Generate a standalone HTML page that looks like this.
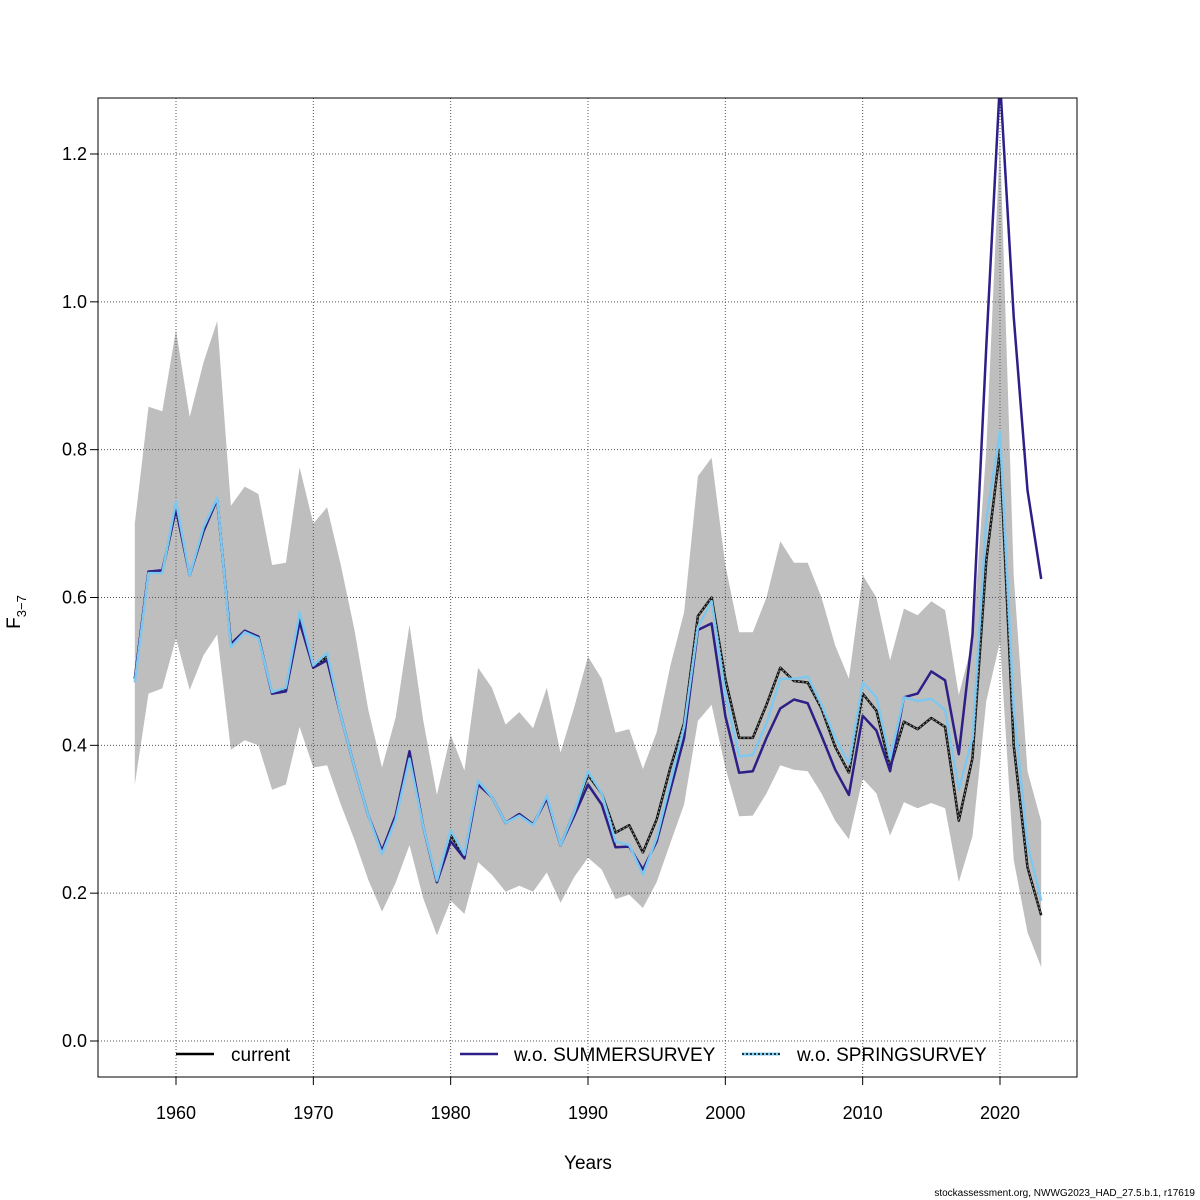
<!DOCTYPE html>
<html><head><meta charset="utf-8"><style>
html,body{margin:0;padding:0;background:#fff;}
svg{display:block;font-family:"Liberation Sans",Arial,sans-serif;}
</style></head><body>
<svg id="chart" width="1200" height="1200" viewBox="0 0 1200 1200" xmlns="http://www.w3.org/2000/svg">
<defs><clipPath id="clip"><rect x="98" y="98" width="979" height="979"/></clipPath></defs>
<g id="band" clip-path="url(#clip)"></g>
<g id="grid"></g>
<g id="lines" clip-path="url(#clip)"></g>
<rect x="98" y="98" width="979" height="979" fill="none" stroke="#000" stroke-width="1"/>
<g id="axes"></g>
<text x="588" y="1169" font-size="19" text-anchor="middle">Years</text>
<text transform="translate(20,612) rotate(-90)" font-size="19" text-anchor="middle">F<tspan font-size="13" dy="6">3−7</tspan></text>
<g>
<g>
<line x1="176" y1="1054" x2="214" y2="1054" stroke="#000" stroke-width="2.5"/>
<text x="231" y="1061" font-size="19">current</text></g>
<g>
<line x1="460" y1="1054" x2="498" y2="1054" stroke="#2c1f87" stroke-width="2.5"/>
<text x="514" y="1061" font-size="19">w.o. SUMMERSURVEY</text></g>
<g>
<line x1="742" y1="1054" x2="780" y2="1054" stroke="#7ec8ef" stroke-width="3"/>
<line x1="742" y1="1054" x2="780" y2="1054" stroke="#000" stroke-width="1.5" stroke-dasharray="2,2"/>
<text x="797" y="1061" font-size="19">w.o. SPRINGSURVEY</text></g>
</g>
<text x="1195" y="1196" font-size="10" text-anchor="end">stockassessment.org, NWWG2023_HAD_27.5.b.1, r17619</text>
</svg>
<script>
const years = [];
for (let y = 1957; y <= 2023; y++) years.push(y);
const current = [0.49,0.635,0.635,0.72,0.63,0.69,0.733,0.537,0.555,0.547,0.47,0.475,0.57,0.505,0.52,0.44,0.37,0.305,0.257,0.305,0.39,0.29,0.215,0.278,0.25,0.35,0.33,0.295,0.307,0.293,0.33,0.265,0.31,0.36,0.335,0.282,0.292,0.255,0.3,0.37,0.43,0.575,0.6,0.49,0.41,0.41,0.455,0.505,0.487,0.485,0.45,0.398,0.363,0.47,0.447,0.37,0.432,0.422,0.437,0.425,0.298,0.383,0.65,0.8,0.4,0.235,0.17];
const summer = [0.49,0.635,0.637,0.72,0.63,0.69,0.733,0.537,0.555,0.547,0.47,0.473,0.567,0.505,0.515,0.44,0.37,0.305,0.257,0.305,0.392,0.29,0.215,0.27,0.247,0.347,0.33,0.295,0.307,0.293,0.328,0.265,0.305,0.347,0.32,0.262,0.263,0.232,0.27,0.34,0.41,0.556,0.565,0.44,0.363,0.365,0.41,0.45,0.462,0.457,0.413,0.367,0.333,0.44,0.42,0.365,0.465,0.47,0.5,0.488,0.388,0.55,0.94,1.3,0.98,0.745,0.625];
const spring = [0.485,0.633,0.633,0.73,0.63,0.695,0.735,0.533,0.553,0.545,0.472,0.478,0.58,0.508,0.525,0.44,0.37,0.305,0.253,0.3,0.382,0.29,0.217,0.285,0.252,0.352,0.33,0.295,0.305,0.292,0.332,0.265,0.31,0.365,0.335,0.27,0.265,0.225,0.275,0.35,0.425,0.56,0.595,0.47,0.385,0.387,0.43,0.49,0.49,0.493,0.455,0.41,0.375,0.485,0.465,0.382,0.465,0.46,0.463,0.448,0.34,0.41,0.705,0.825,0.45,0.265,0.19];
const upper = [0.70,0.858,0.852,0.962,0.844,0.918,0.974,0.724,0.75,0.74,0.644,0.647,0.776,0.70,0.722,0.644,0.556,0.448,0.37,0.438,0.563,0.434,0.333,0.414,0.366,0.505,0.478,0.428,0.445,0.423,0.478,0.39,0.452,0.52,0.49,0.417,0.422,0.368,0.418,0.508,0.58,0.764,0.789,0.644,0.553,0.553,0.60,0.676,0.647,0.647,0.60,0.535,0.49,0.63,0.60,0.515,0.585,0.576,0.595,0.583,0.468,0.54,0.80,1.22,0.63,0.365,0.297];
const lower = [0.347,0.47,0.477,0.545,0.475,0.522,0.55,0.394,0.407,0.40,0.34,0.347,0.425,0.37,0.373,0.32,0.272,0.218,0.175,0.214,0.265,0.193,0.143,0.19,0.172,0.242,0.225,0.202,0.21,0.202,0.228,0.187,0.222,0.248,0.232,0.192,0.198,0.18,0.215,0.268,0.32,0.433,0.455,0.37,0.304,0.305,0.335,0.373,0.367,0.365,0.335,0.298,0.273,0.355,0.335,0.278,0.323,0.315,0.322,0.315,0.215,0.277,0.46,0.54,0.245,0.147,0.10];
const xTicks = [1960,1970,1980,1990,2000,2010,2020];
const yTicks = [0.0,0.2,0.4,0.6,0.8,1.0,1.2];
const yTickLabels = ["0.0","0.2","0.4","0.6","0.8","1.0","1.2"];

const NS = "http://www.w3.org/2000/svg";
function xs(v){ return 176 + (v - 1960) * (824 / 60); }
function ys(v){ return 1041 - v * (887 / 1.2); }
function mk(tag, attrs, parent){
  const e = document.createElementNS(NS, tag);
  for (const k in attrs) e.setAttribute(k, attrs[k]);
  parent.appendChild(e);
  return e;
}
const band = document.getElementById('band');
let d = years.map((y,i)=>(i?'L':'M')+xs(y).toFixed(1)+','+ys(upper[i]).toFixed(1)).join(' ');
for (let i = years.length-1; i >= 0; i--) d += ' L'+xs(years[i]).toFixed(1)+','+ys(lower[i]).toFixed(1);
const bp = mk('path', {d: d+' Z', fill:'#bebebe', stroke:'none'}, band);



const grid = document.getElementById('grid');
xTicks.forEach(t=>{
  const l = mk('line', {x1:xs(t), x2:xs(t), y1:98, y2:1077, stroke:'#555', 'stroke-width':1, 'stroke-dasharray':'1,2'}, grid);
  
  
});
yTicks.forEach(t=>{
  const l = mk('line', {x1:98, x2:1077, y1:ys(t), y2:ys(t), stroke:'#555', 'stroke-width':1, 'stroke-dasharray':'1,2'}, grid);
  
  
});

const lines = document.getElementById('lines');
function pts(arr){ return years.map((y,i)=>xs(y).toFixed(1)+','+ys(arr[i]).toFixed(1)).join(' '); }
const lc = mk('polyline', {points:pts(current), fill:'none', stroke:'#111', 'stroke-width':2.5, 'stroke-linejoin':'round'}, lines);


const lcd = mk('polyline', {points:pts(current), fill:'none', stroke:'#999', 'stroke-width':1, 'stroke-dasharray':'2,2'}, lines);


const lsu = mk('polyline', {points:pts(summer), fill:'none', stroke:'#2c1f87', 'stroke-width':2.5, 'stroke-linejoin':'round'}, lines);


const lsp = mk('polyline', {points:pts(spring), fill:'none', stroke:'#7ec8ef', 'stroke-width':2.5, 'stroke-linejoin':'round'}, lines);



const axes = document.getElementById('axes');
xTicks.forEach(t=>{
  const tk = mk('line', {x1:xs(t), x2:xs(t), y1:1077, y2:1085, stroke:'#000'}, axes);
  
  
  const tx = mk('text', {x:xs(t), y:1119, 'font-size':18, 'text-anchor':'middle'}, axes);
  tx.textContent = t;
  
  
});
yTicks.forEach((t,i)=>{
  const tk = mk('line', {x1:90, x2:98, y1:ys(t), y2:ys(t), stroke:'#000'}, axes);
  
  
  const tx = mk('text', {x:87, y:ys(t)+6, 'font-size':18, 'text-anchor':'end'}, axes);
  tx.textContent = yTickLabels[i];
  
  
});
</script>
</body></html>
